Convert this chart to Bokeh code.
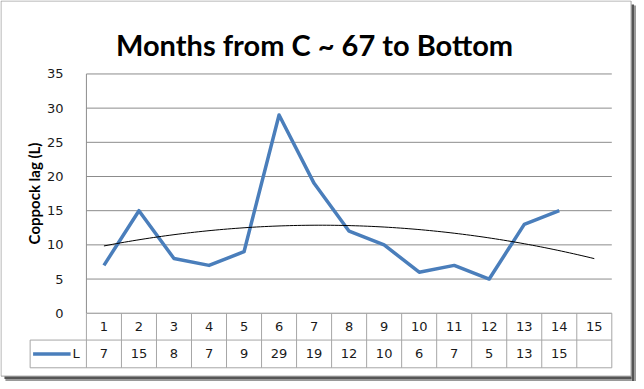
import math
import numpy as np
from bokeh.plotting import figure
from bokeh.models import Range1d, FixedTicker
from bokeh.core.properties import value
from bokeh.embed import file_html
from bokeh.resources import INLINE

# ---- data ----
title_text = "Months from C ~ 67 to Bottom"
y_label = "Coppock lag (L)"
series_name = "L"
categories = ["1", "2", "3", "4", "5", "6", "7", "8", "9", "10", "11", "12", "13", "14", "15"]
months = [1, 2, 3, 4, 5, 6, 7, 8, 9, 10, 11, 12, 13, 14, 15]
values = [7, 15, 8, 7, 9, 29, 19, 12, 10, 6, 7, 5, 13, 15]
y_ticks = [0, 5, 10, 15, 20, 25, 30, 35]

# ---- layout: reference pixels -> canvas pixels -> data units ----
W, H = 636, 381
SX, SY = W / 644.0, H / 389.0
X_LEFT, X_RIGHT = 87 * SX, 619 * SX          # plot area left/right (canvas px)
Y_ZERO, Y_TOP = 319.3 * SY, 75 * SY          # value 0 / value 35 (canvas px)
PX_X = (X_RIGHT - X_LEFT) / 15.0
PX_Y = (Y_ZERO - Y_TOP) / 35.0

def gx(rx):
    return 0.5 + (rx * SX - X_LEFT) / PX_X

def gy(ry):
    return (Y_ZERO - ry * SY) / PX_Y

row1_bot = gy(346.7)
row2_bot = gy(375.0)
row2_mid = (row1_bot + row2_bot) / 2

BLUE = "#4a7ebb"
GRID = "#8c8c8c"
TABLE = "#a6a6a6"
TXT = "#1a1a1a"

p = figure(width=W, height=H,
           x_range=Range1d(gx(0), gx(644)), y_range=Range1d(gy(389), gy(0)),
           output_backend="svg", toolbar_location=None,
           min_border_left=0, min_border_right=0,
           min_border_top=0, min_border_bottom=0)
p.xaxis.visible = False
p.xgrid.visible = False
p.ygrid.visible = False
p.outline_line_color = None
p.background_fill_color = "white"
p.border_fill_color = "white"

ax = p.yaxis[0]
ax.fixed_location = 0.5
ax.ticker = FixedTicker(ticks=y_ticks)
ax.major_tick_line_color = None
ax.minor_tick_line_color = None
ax.axis_line_color = None
ax.major_label_text_font = "DejaVu Sans"
ax.major_label_text_font_size = "13px"
ax.major_label_text_color = TXT
ax.major_label_standoff = 17

# chart border and shadow
p.quad(left=gx(0.5), right=gx(638.5), top=gy(0.5), bottom=gy(383.5),
       fill_color="white", line_color="#a0a0a0", line_width=1)
p.quad(left=[gx(639), gx(641.5)], right=[gx(641.5), gx(644)],
       top=[gy(4), gy(5)], bottom=[gy(389), gy(389)],
       fill_color=["#555555", "#9a9a9a"], line_color=None)
p.quad(left=[gx(4), gx(5)], right=[gx(639), gx(639)],
       top=[gy(384), gy(386.5)], bottom=[gy(386.5), gy(389)],
       fill_color=["#555555", "#9a9a9a"], line_color=None)

# gridlines and value axis line
p.segment(x0=0.5, x1=15.5, y0=y_ticks, y1=y_ticks, line_color=GRID, line_width=1)
p.segment(x0=0.5, x1=0.5, y0=35, y1=0, line_color=GRID, line_width=1)

# data table lines
edges = [m - 0.5 for m in months] + [months[-1] + 0.5]
p.segment(x0=edges, x1=edges, y0=0, y1=row2_bot, line_color=TABLE, line_width=1)
p.segment(x0=[0.5, gx(30)], x1=[15.5, 15.5], y0=[row1_bot, row2_bot], y1=[row1_bot, row2_bot],
          line_color=TABLE, line_width=1)
p.segment(x0=gx(30), x1=gx(30), y0=row1_bot, y1=row2_bot, line_color=TABLE, line_width=1)
p.segment(x0=gx(30), x1=0.5, y0=row1_bot, y1=row1_bot, line_color=TABLE, line_width=1)

# table texts
p.text(x=months, y=row1_bot / 2, text=categories,
       text_font=value("DejaVu Sans"), text_font_size="13px", text_color=TXT,
       text_align="center", text_baseline="middle")
p.text(x=months[:len(values)], y=row2_mid, text=[str(v) for v in values],
       text_font=value("DejaVu Sans"), text_font_size="13px", text_color=TXT,
       text_align="center", text_baseline="middle")

# legend key inside the table
p.segment(x0=gx(33), x1=gx(71), y0=row2_mid, y1=row2_mid, line_color=BLUE, line_width=3.5)
p.text(x=gx(73), y=row2_mid, text=[series_name],
       text_font=value("DejaVu Sans"), text_font_size="13px", text_color=TXT,
       text_align="left", text_baseline="middle")

# series and polynomial trendline
p.line(months[:len(values)], values, line_color=BLUE, line_width=3.5, line_join="round")
coef = np.polyfit(months[:len(values)], values, 2)
tx = np.linspace(months[0], months[-1], 120)
p.line(tx, np.polyval(coef, tx), line_color="black", line_width=1)

# title and axis title
p.text(x=gx(318), y=gy(45), text=[title_text],
       text_font=value("Lato"), text_font_style="bold", text_font_size="29px",
       text_color="black", text_align="center", text_baseline="alphabetic")
p.text(x=gx(33.5), y=gy(197), text=[y_label], angle=math.pi / 2,
       text_font=value("Lato"), text_font_style="bold", text_font_size="15px",
       text_color="black", text_align="center", text_baseline="middle")

open("out.html", "w").write(file_html(p, INLINE))
